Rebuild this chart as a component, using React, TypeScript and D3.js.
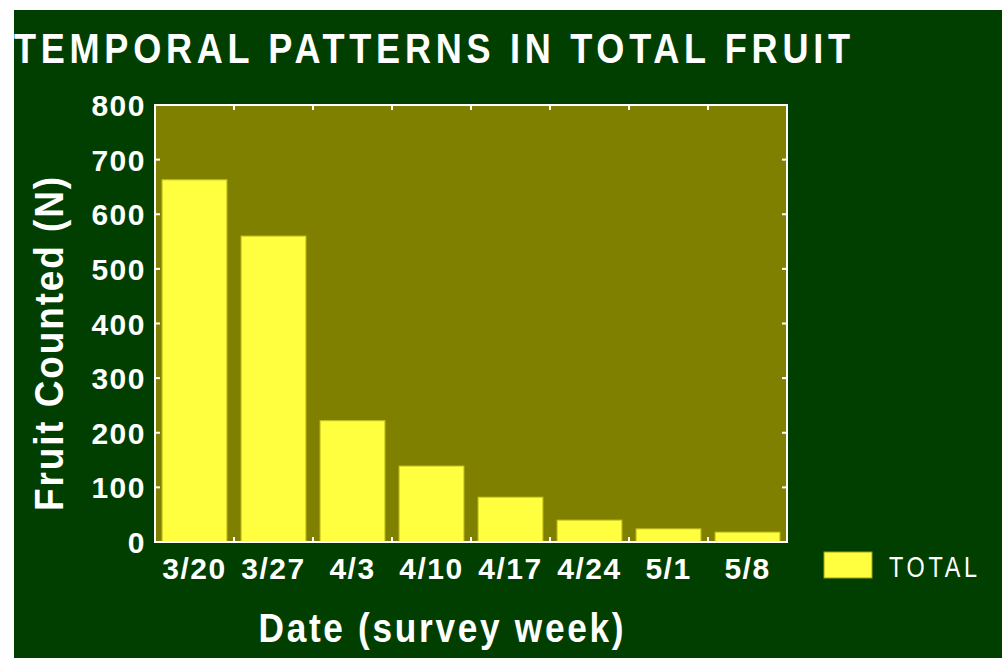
import React, { useEffect, useRef } from "react";
import * as d3 from "d3";

const weeks = ["3/20", "3/27", "4/3", "4/10", "4/17", "4/24", "5/1", "5/8"];
const totals = [663, 560, 222, 139, 82, 40, 24, 18];
const yTicks = [0, 100, 200, 300, 400, 500, 600, 700, 800];

const font = "'Liberation Sans', Arial, sans-serif";

// condensed text: squeeze glyphs horizontally, then let spacing fill the measured width
function label(parent: any, o: { x: number; y: number; text: string; size: number; bold?: boolean; len: number; sx: number; anchor?: string; rot?: number }) {
  const g = parent.append("g").attr("transform", `translate(${o.x},${o.y}) rotate(${o.rot || 0}) scale(${o.sx},1)`);
  g.append("text").attr("x", 0).attr("y", 0)
    .attr("text-anchor", o.anchor || "start")
    .attr("font-family", font).attr("font-weight", o.bold ? "bold" : "normal")
    .attr("font-size", o.size).attr("fill", "#ffffff")
    .attr("textLength", o.len / o.sx).attr("lengthAdjust", "spacing")
    .text(o.text);
}

export default function App() {
  const ref = useRef<SVGSVGElement | null>(null);

  useEffect(() => {
    const svg = d3.select(ref.current);
    svg.selectAll("*").remove();
    const W = 1007, H = 658;

    svg.append("rect").attr("width", W).attr("height", H).attr("fill", "#ffffff");
    svg.append("rect").attr("x", 14).attr("y", 10).attr("width", 988).attr("height", 648).attr("fill", "#003f00");

    const left = 155, right = 787, top = 105, bottom = 542;
    const x = d3.scaleBand().domain(weeks).range([left, right]).paddingInner(0.18).paddingOuter(0.09);
    const xb = d3.scaleBand().domain(weeks).range([left, right]);
    const y = d3.scaleLinear().domain([0, 800]).range([bottom, top]);

    svg.append("rect").attr("x", left).attr("y", top).attr("width", right - left).attr("height", bottom - top).attr("fill", "#808000");

    svg.selectAll("rect.bar").data(totals).enter().append("rect")
      .attr("class", "bar")
      .attr("x", (d, i) => x(weeks[i])!)
      .attr("y", d => y(d))
      .attr("width", x.bandwidth())
      .attr("height", d => bottom - y(d))
      .attr("fill", "#ffff40").attr("stroke", "#c8c820").attr("stroke-width", 1);

    // frame + inward ticks
    const g = svg.append("g").attr("stroke", "#ffffff").attr("stroke-width", 2);
    g.append("rect").attr("x", left).attr("y", top).attr("width", right - left).attr("height", bottom - top).attr("fill", "none");
    yTicks.forEach(t => {
      g.append("line").attr("x1", left).attr("x2", left + 5).attr("y1", y(t)).attr("y2", y(t));
      g.append("line").attr("x1", right).attr("x2", right - 5).attr("y1", y(t)).attr("y2", y(t));
    });
    weeks.slice(1).forEach(w => {
      const px = xb(w)!;
      g.append("line").attr("x1", px).attr("x2", px).attr("y1", bottom).attr("y2", bottom - 5);
      g.append("line").attr("x1", px).attr("x2", px).attr("y1", top).attr("y2", top + 5);
    });

    svg.selectAll("text.yt").data(yTicks).enter().append("text")
      .attr("x", 146).attr("y", d => y(d) + 11)
      .attr("text-anchor", "end").attr("font-family", font).attr("font-weight", "bold")
      .attr("font-size", 30).attr("letter-spacing", 1.5).attr("fill", "#ffffff").text(d => d);

    svg.selectAll("text.xt").data(weeks).enter().append("text")
      .attr("x", d => xb(d)! + xb.bandwidth() / 2).attr("y", 579)
      .attr("text-anchor", "middle").attr("font-family", font).attr("font-weight", "bold")
      .attr("font-size", 30).attr("letter-spacing", 1.5).attr("fill", "#ffffff").text(d => d);

    label(svg, { x: 14, y: 63, text: "TEMPORAL PATTERNS IN TOTAL FRUIT", size: 43, bold: true, len: 836, sx: 0.84 });
    label(svg, { x: 63, y: 344, text: "Fruit Counted (N)", size: 41, bold: true, len: 334, sx: 0.9, anchor: "middle", rot: -90 });
    label(svg, { x: 441, y: 642, text: "Date (survey week)", size: 41, bold: true, len: 365, sx: 0.86, anchor: "middle" });

    svg.append("rect").attr("x", 824).attr("y", 552).attr("width", 48).attr("height", 26)
      .attr("fill", "#ffff40").attr("stroke", "#a0a010").attr("stroke-width", 1);
    label(svg, { x: 889, y: 577, text: "TOTAL", size: 30, len: 88, sx: 0.78 });
  }, []);

  return <svg ref={ref} width={1007} height={658} style={{ position: "absolute", left: 0, top: 0 }} />;
}
